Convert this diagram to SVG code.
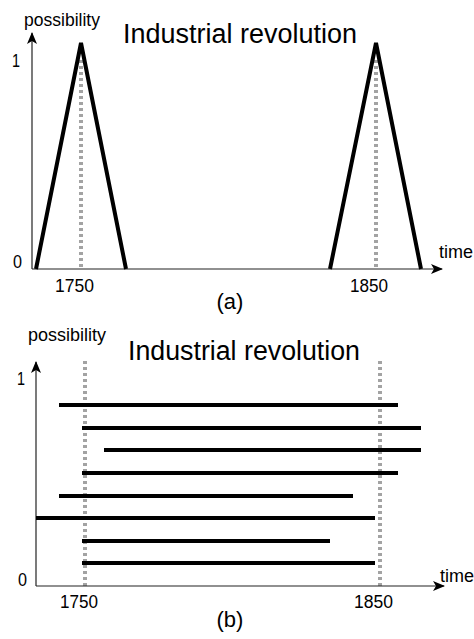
<svg xmlns="http://www.w3.org/2000/svg" width="474" height="639" viewBox="0 0 474 639">
<defs>
<marker id="arr" viewBox="0 0 12 10" refX="11" refY="5" markerWidth="12" markerHeight="10" markerUnits="userSpaceOnUse" orient="auto">
<path d="M0,0 L12,5 L0,10 L3,5 Z" fill="#000"/>
</marker>
<style>
.axis{stroke:#222;stroke-width:1.2;fill:none}
.tri{stroke:#000;stroke-width:4;fill:none;stroke-linejoin:miter}
.dot{stroke:#a3a3a3;stroke-width:4;stroke-dasharray:3 3;fill:none}
.bar{stroke:#000;stroke-width:4;fill:none}
text{font-family:"Liberation Sans",Arial,sans-serif;fill:#000}
.lbl{font-size:18px}
.title{font-size:27px}
.cap{font-size:22px}
</style>
</defs>
<rect width="474" height="639" fill="#fff"/>
<g id="panel-a">
<g id="a-guides">
<line class="dot" x1="81" y1="60" x2="81" y2="269"/>
<line class="dot" x1="376" y1="60" x2="376" y2="269"/>
</g>
<g id="a-connectors">
<line class="axis" x1="32" y1="269" x2="32" y2="33" marker-end="url(#arr)"/>
<line class="axis" x1="32" y1="269" x2="442" y2="269" marker-end="url(#arr)"/>
</g>
<g id="a-peak1"><polyline class="tri" points="36,269 81,43 126,269"/></g>
<g id="a-peak2"><polyline class="tri" points="330,269 376,43 421,269"/></g>
<g id="a-labels">
<text class="lbl" x="24" y="26" textLength="76" lengthAdjust="spacingAndGlyphs">possibility</text>
<text class="title" x="123" y="43" textLength="234" lengthAdjust="spacingAndGlyphs">Industrial revolution</text>
<text class="lbl" x="12" y="67" textLength="8" lengthAdjust="spacingAndGlyphs">1</text>
<text class="lbl" x="13" y="268" textLength="9" lengthAdjust="spacingAndGlyphs">0</text>
<text class="lbl" x="55" y="292" textLength="39" lengthAdjust="spacingAndGlyphs">1750</text>
<text class="lbl" x="350" y="292" textLength="38" lengthAdjust="spacingAndGlyphs">1850</text>
<text class="lbl" x="439" y="258" textLength="34" lengthAdjust="spacingAndGlyphs">time</text>
<text class="cap" x="230" y="309" text-anchor="middle">(a)</text>
</g>
</g>
<g id="panel-b">
<g id="b-guides">
<line class="dot" x1="85" y1="361" x2="85" y2="586"/>
<line class="dot" x1="380" y1="361" x2="380" y2="586"/>
</g>
<g id="b-connectors">
<line class="axis" x1="36" y1="586" x2="36" y2="362" marker-end="url(#arr)"/>
<line class="axis" x1="36" y1="586" x2="444" y2="586" marker-end="url(#arr)"/>
</g>
<g id="b-bars">
<line class="bar" x1="59" y1="405" x2="398" y2="405"/>
<line class="bar" x1="82" y1="428" x2="421" y2="428"/>
<line class="bar" x1="104" y1="450" x2="421" y2="450"/>
<line class="bar" x1="82" y1="473" x2="398" y2="473"/>
<line class="bar" x1="59" y1="496" x2="353" y2="496"/>
<line class="bar" x1="36" y1="518" x2="375" y2="518"/>
<line class="bar" x1="82" y1="541" x2="330" y2="541"/>
<line class="bar" x1="82" y1="563" x2="375" y2="563"/>
</g>
<g id="b-labels">
<text class="lbl" x="28" y="341" textLength="78" lengthAdjust="spacingAndGlyphs">possibility</text>
<text class="title" x="128" y="360" textLength="232" lengthAdjust="spacingAndGlyphs">Industrial revolution</text>
<text class="lbl" x="17" y="385" textLength="8" lengthAdjust="spacingAndGlyphs">1</text>
<text class="lbl" x="18" y="586" textLength="9" lengthAdjust="spacingAndGlyphs">0</text>
<text class="lbl" x="60" y="608" textLength="38" lengthAdjust="spacingAndGlyphs">1750</text>
<text class="lbl" x="354" y="608" textLength="39" lengthAdjust="spacingAndGlyphs">1850</text>
<text class="lbl" x="440" y="582" textLength="34" lengthAdjust="spacingAndGlyphs">time</text>
<text class="cap" x="230" y="627" text-anchor="middle">(b)</text>
</g>
</g>
</svg>
